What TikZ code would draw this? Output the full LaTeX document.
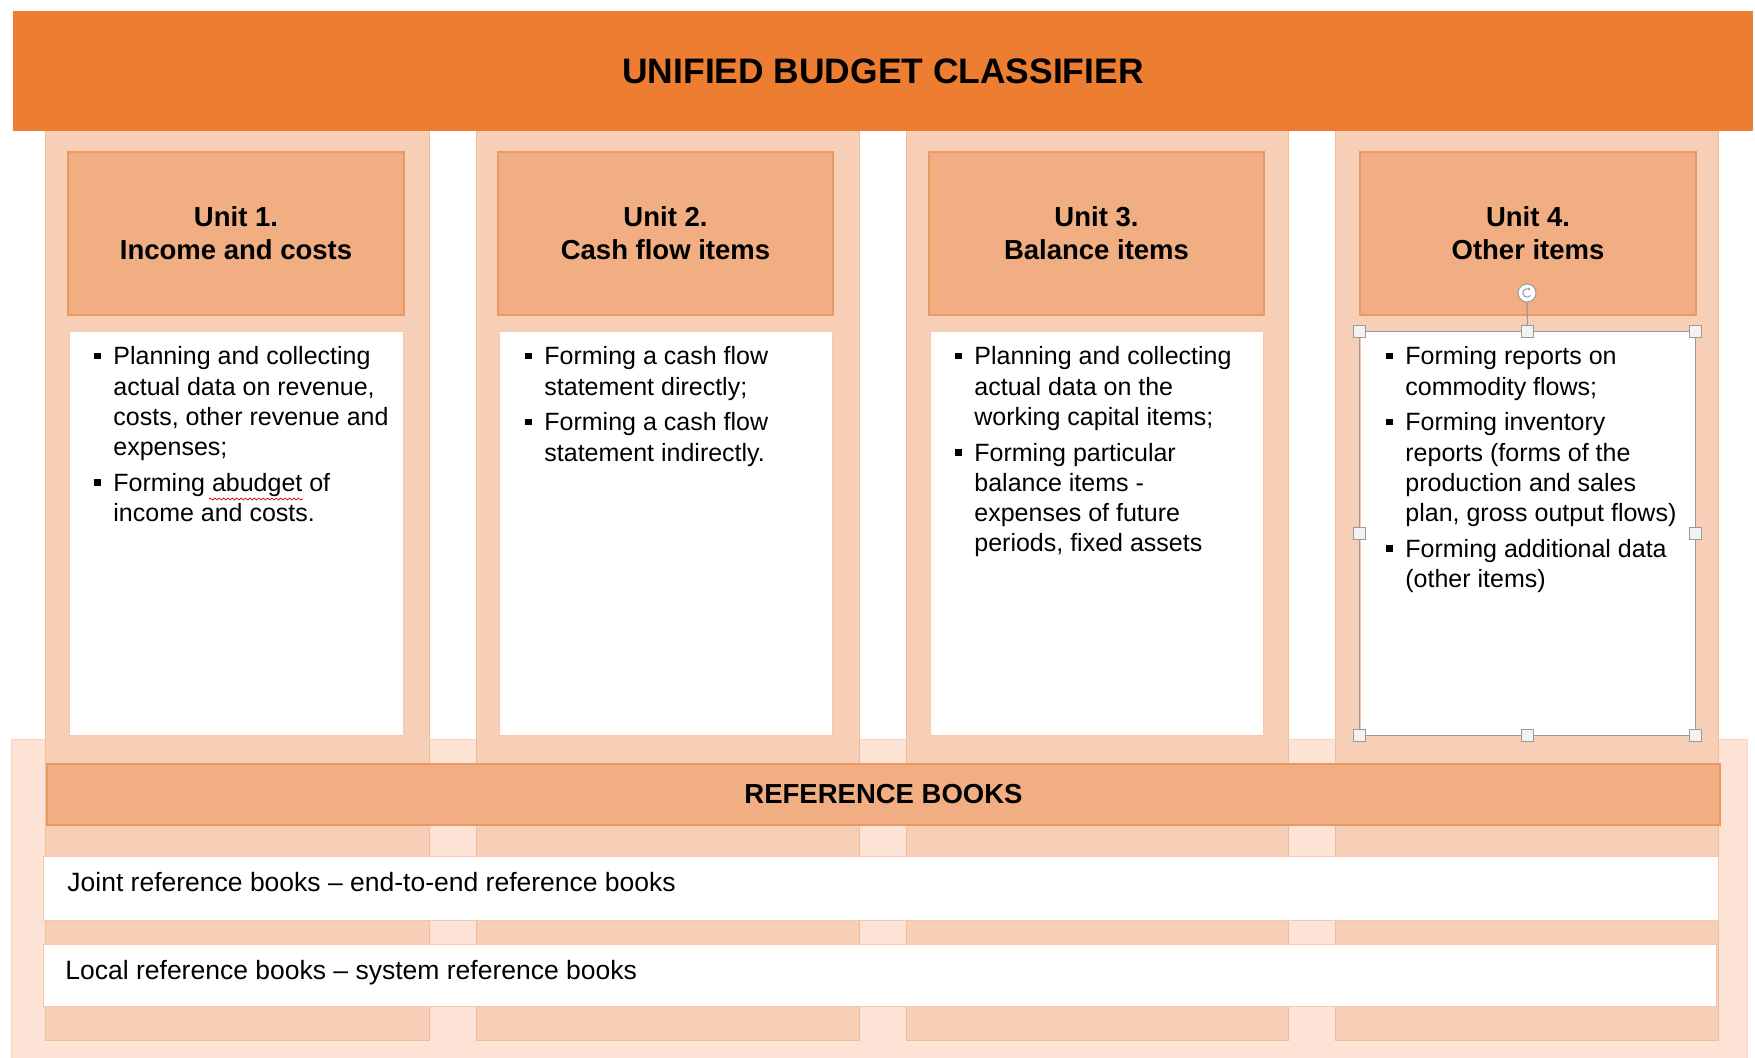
\documentclass[tikz,border=0pt]{standalone}
\usepackage{fontspec}
\setmainfont{Liberation Sans}
\usetikzlibrary{fit,arrows.meta,decorations.pathmorphing}
\definecolor{bannerc}{HTML}{ED7D31}
\definecolor{colfill}{HTML}{F6CFB6}
\definecolor{coledge}{HTML}{F1BC98}
\definecolor{hdrfill}{HTML}{F0AE82}
\definecolor{hdredge}{HTML}{E99A62}
\definecolor{bgfill}{HTML}{FCE3D6}
\definecolor{boxedge}{HTML}{F4C8AA}
\definecolor{selgray}{HTML}{9A9A9A}
\newcommand\bulmark{\raisebox{2.75pt}{\rule{3.4pt}{3.4pt}}}
\tikzset{
  bgbox/.style={fill=bgfill, draw=coledge!60, line width=0.4pt, inner sep=0},
  bannerbox/.style={fill=bannerc, draw=none, inner sep=0},
  titletext/.style={inner sep=0, font=\fontsize{17.7}{21}\selectfont\bfseries},
  colbox/.style={fill=colfill, draw=coledge, line width=0.5pt, inner sep=0},
  hdrbox/.style={fill=hdrfill, draw=hdredge, line width=0.6pt, inner sep=0},
  hdrtext/.style={inner sep=0, align=center, font=\fontsize{13.75}{16.5}\selectfont\bfseries},
  whitebox/.style={fill=white, draw=boxedge, line width=0.5pt, inner sep=0},
  listtext/.style={anchor=base west, inner sep=0, align=left, font=\fontsize{12.5}{15.1}\selectfont},
  reftext/.style={anchor=base west, inner sep=0, font=\fontsize{13.25}{16}\selectfont},
  handle/.style={draw=selgray, fill=gray!10, minimum size=6pt, inner sep=0, line width=0.4pt},
  selline/.style={draw=selgray, line width=0.6pt},
  spellmark/.style={draw=red!80!black, line width=0.35pt, decorate,
    decoration={snake, amplitude=0.5pt, segment length=2.2pt}},
}
\begin{document}
\begin{tikzpicture}[x=0.5pt, y=-0.5pt]
\useasboundingbox (0,0) rectangle (1755,1058);
\fill[white] (0,0) rectangle (1755,1058);

% bottom light background
\node[bgbox, fit={(11,739) (1747,1062)}] (bg) {};

% columns
\node[colbox, fit={(45,131) (429,1040)}] (c1) {};
\node[colbox, fit={(476,131) (859,1040)}] (c2) {};
\node[colbox, fit={(906,131) (1288,1040)}] (c3) {};
\node[colbox, fit={(1335,131) (1718,1040)}] (c4) {};

% banner
\node[bannerbox, fit={(13,11) (1753,131)}] (banner) {};
\node[titletext] (title) at (banner.center) {UNIFIED BUDGET CLASSIFIER};

% unit headers
\node[hdrbox, fit={(68,152) (404,315)}] (h1) {};
\node[hdrbox, fit={(498,152) (833,315)}] (h2) {};
\node[hdrbox, fit={(929,152) (1264,315)}] (h3) {};
\node[hdrbox, fit={(1360,152) (1696,315)}] (h4) {};
\node[hdrtext] (ht1) at (h1.center) {Unit 1.\\Income and costs};
\node[hdrtext] (ht2) at (h2.center) {Unit 2.\\Cash flow items};
\node[hdrtext] (ht3) at (h3.center) {Unit 3.\\Balance items};
\node[hdrtext] (ht4) at (h4.center) {Unit 4.\\Other items};

% white content boxes
\node[whitebox, fit={(69,332) (403,735)}] (w1) {};
\node[whitebox, fit={(499,332) (832,735)}] (w2) {};
\node[whitebox, fit={(930,332) (1263,735)}] (w3) {};
\node[whitebox, fit={(1360,332) (1695,735)}] (w4) {};

% lists
\node[listtext] (t1) at (94,365) {\begin{tabular}[t]{@{}p{9.5pt}@{}l@{}}
\bulmark & Planning and collecting\\
 & actual data on revenue,\\
 & costs, other revenue and\\
 & expenses;\\[2.8pt]
\bulmark & Forming abudget of\\
 & income and costs.
\end{tabular}};
\node[listtext] (t2) at (525,365) {\begin{tabular}[t]{@{}p{9.5pt}@{}l@{}}
\bulmark & Forming a cash flow\\
 & statement directly;\\[2.8pt]
\bulmark & Forming a cash flow\\
 & statement indirectly.
\end{tabular}};
\node[listtext] (t3) at (955,365) {\begin{tabular}[t]{@{}p{9.5pt}@{}l@{}}
\bulmark & Planning and collecting\\
 & actual data on the\\
 & working capital items;\\[2.8pt]
\bulmark & Forming particular\\
 & balance items -\\
 & expenses of future\\
 & periods, fixed assets
\end{tabular}};
\node[listtext] (t4) at (1386,365) {\begin{tabular}[t]{@{}p{9.5pt}@{}l@{}}
\bulmark & Forming reports on\\
 & commodity flows;\\[2.8pt]
\bulmark & Forming inventory\\
 & reports (forms of the\\
 & production and sales\\
 & plan, gross output flows)\\[2.8pt]
\bulmark & Forming additional data\\
 & (other items)
\end{tabular}};

% spell-check mark under "abudget"
\coordinate (sq1) at (209,499);
\coordinate (sq2) at (303,499);
\draw[spellmark] (sq1) -- (sq2);

% selection frame on unit 4 box
\draw[selline] (w4.north west) rectangle (w4.south east);
\node[handle] (s1) at (w4.north west) {};
\node[handle] (s2) at (w4.north) {};
\node[handle] (s3) at (w4.north east) {};
\node[handle] (s4) at (w4.west) {};
\node[handle] (s5) at (w4.east) {};
\node[handle] (s6) at (w4.south west) {};
\node[handle] (s7) at (w4.south) {};
\node[handle] (s8) at (w4.south east) {};
\node[draw=selgray, fill=white, circle, minimum size=9pt, inner sep=0, line width=0.5pt] (rot) at (1527,293) {};
\draw[selline] (rot.south) -- (s2.north);
\draw[selgray, line width=0.5pt, -{Latex[length=1.2pt,width=1.6pt]}] (rot.center) ++(35:4.2) arc (35:320:4.2);

% reference books
\node[hdrbox, fit={(47,764) (1720,825)}] (rb) {};
\node[hdrtext] (rbt) at (rb.center) {REFERENCE BOOKS};
\node[whitebox, fit={(43,856) (1718,920)}] (joint) {};
\node[whitebox, fit={(43,944) (1716,1006)}] (local) {};
\node[reftext] (jt) at (67,891) {Joint reference books – end-to-end reference books};
\node[reftext] (lt) at (65,979) {Local reference books – system reference books};
\end{tikzpicture}
\end{document}
